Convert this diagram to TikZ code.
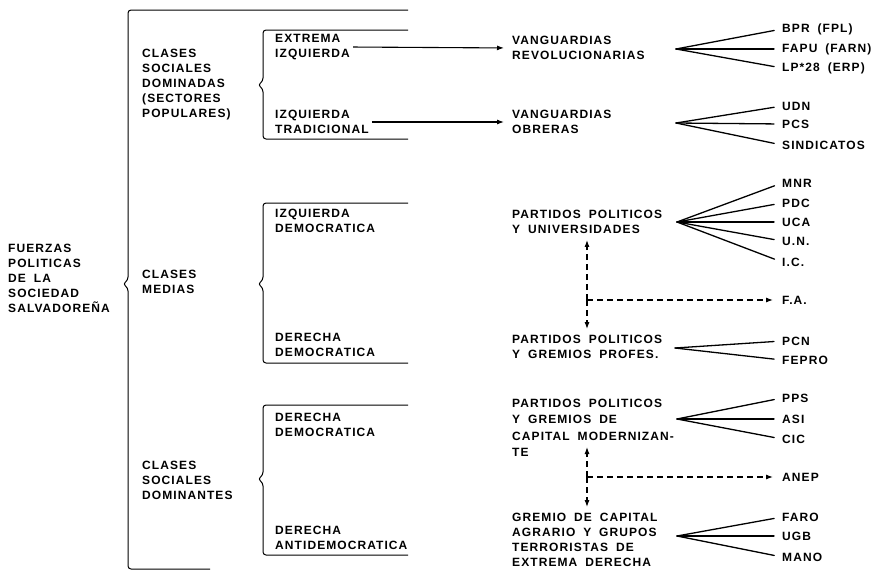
\documentclass[tikz,border=0pt]{standalone}
\usepackage{fontspec}
\setmainfont{Liberation Sans Bold}[LetterSpace=9,WordSpace=1.8]
\usetikzlibrary{arrows.meta}

\begin{document}
\begin{tikzpicture}[x=1pt,y=-1pt,
    lbl/.style={anchor=west,align=left,inner sep=0pt,font=\fontsize{12}{15}\selectfont},
    brk/.style={line width=1pt,rounded corners=3pt},
    fan/.style={line width=1.3pt,line cap=round,shorten >=8pt},
    arr/.style={line width=1.1pt,-{Latex[length=7pt,width=5pt]},shorten >=8pt,shorten <=3pt},
    darr/.style={line width=1.1pt,-{Latex[length=7pt,width=5pt]},dash pattern=on 6pt off 4pt,shorten >=6pt}]

  \useasboundingbox (0,0) rectangle (891,576);

  % brackets
  \draw[brk] (408,10) -- (128,10) -- (128,280) -- (123,284) -- (128,288) -- (128,569) -- (210,569);
  \foreach \t/\m/\b in {30/85/139, 203/284/363, 405/479/555} {
    \draw[brk] (408,\t) -- (263,\t) -- (263,\m-4) -- (258,\m) -- (263,\m+4) -- (263,\b) -- (408,\b);
  }

  \node[lbl] (fuerzas) at (8,278) {FUERZAS\\POLITICAS\\DE LA\\SOCIEDAD\\SALVADOREÑA};

  \node[lbl] (dominadas) at (142,85) {CLASES\\SOCIALES\\DOMINADAS\\(SECTORES\\POPULARES)};
  \node[lbl] (medias) at (142,282) {CLASES\\MEDIAS};
  \node[lbl] (dominantes) at (142,480) {CLASES\\SOCIALES\\DOMINANTES};

  \node[lbl] (extizq) at (275,47) {EXTREMA\\IZQUIERDA};
  \node[lbl] (izqtrad) at (275,122) {IZQUIERDA\\TRADICIONAL};
  \node[lbl] (izqdem) at (275,221) {IZQUIERDA\\DEMOCRATICA};
  \node[lbl] (derdem) at (275,345) {DERECHA\\DEMOCRATICA};
  \node[lbl] (derdemdom) at (275,425) {DERECHA\\DEMOCRATICA};
  \node[lbl] (derantidem) at (275,538) {DERECHA\\ANTIDEMOCRATICA};

  \node[lbl] (vrev) at (512,48) {VANGUARDIAS\\REVOLUCIONARIAS};
  \node[lbl] (vobr) at (512,122) {VANGUARDIAS\\OBRERAS};
  \node[lbl] (ppuniv) at (512,222) {PARTIDOS POLITICOS\\Y UNIVERSIDADES};
  \node[lbl] (ppgrem) at (512,347) {PARTIDOS POLITICOS\\Y GREMIOS PROFES.};
  \node[lbl,font=\fontsize{12}{16.5}\selectfont] (ppcap) at (512,428) {PARTIDOS POLITICOS\\Y GREMIOS DE\\CAPITAL MODERNIZAN-\\TE};
  \node[lbl] (gremio) at (512,540) {GREMIO DE CAPITAL\\AGRARIO Y GRUPOS\\TERRORISTAS DE\\EXTREMA DERECHA};

  \draw[arr] (extizq.east) -- (vrev.west);
  \draw[arr] (izqtrad.east) -- (vobr.west);

  % fans
  \coordinate (f1) at (676,49);
  \coordinate (f2) at (676,123);
  \coordinate (f3) at (677,222);
  \coordinate (f4) at (675,348);
  \coordinate (f5) at (677,419);
  \coordinate (f6) at (677,536);
  \foreach \t/\y [count=\i] in {BPR (FPL)/29, FAPU (FARN)/49, LP*28 (ERP)/68} {
    \node[lbl] (rev\i) at (782,\y) {\t};
    \draw[fan] (f1) -- (rev\i.west);
  }
  \foreach \t/\y [count=\i] in {UDN/106, PCS/124, SINDICATOS/145} {
    \node[lbl] (obr\i) at (782,\y) {\t};
    \draw[fan] (f2) -- (obr\i.west);
  }
  \foreach \t/\y [count=\i] in {MNR/183, PDC/203, UCA/222, U.N./241, I.C./262} {
    \node[lbl] (univ\i) at (782,\y) {\t};
    \draw[fan] (f3) -- (univ\i.west);
  }
  \foreach \t/\y [count=\i] in {PCN/341, FEPRO/360} {
    \node[lbl] (prof\i) at (782,\y) {\t};
    \draw[fan] (f4) -- (prof\i.west);
  }
  \foreach \t/\y [count=\i] in {PPS/398, ASI/419, CIC/439} {
    \node[lbl] (cap\i) at (782,\y) {\t};
    \draw[fan] (f5) -- (cap\i.west);
  }
  \foreach \t/\y [count=\i] in {FARO/517, UGB/536, MANO/557} {
    \node[lbl] (agr\i) at (782,\y) {\t};
    \draw[fan] (f6) -- (agr\i.west);
  }

  % dashed links
  \node[lbl] (fa) at (782,300) {F.A.};
  \coordinate (j1) at (587,300);
  \draw[darr] (j1) -- (j1 |- ppuniv.south);
  \draw[darr] (j1) -- (j1 |- ppgrem.north);
  \draw[darr,shorten >=9pt] (j1) -- (fa.west);

  \node[lbl] (anep) at (782,477) {ANEP};
  \coordinate (j2) at (587,477);
  \coordinate (up2) at (587,441);
  \draw[darr] (j2) -- (up2);
  \draw[darr] (j2) -- (j2 |- gremio.north);
  \draw[darr,shorten >=9pt] (j2) -- (anep.west);

\end{tikzpicture}
\end{document}
